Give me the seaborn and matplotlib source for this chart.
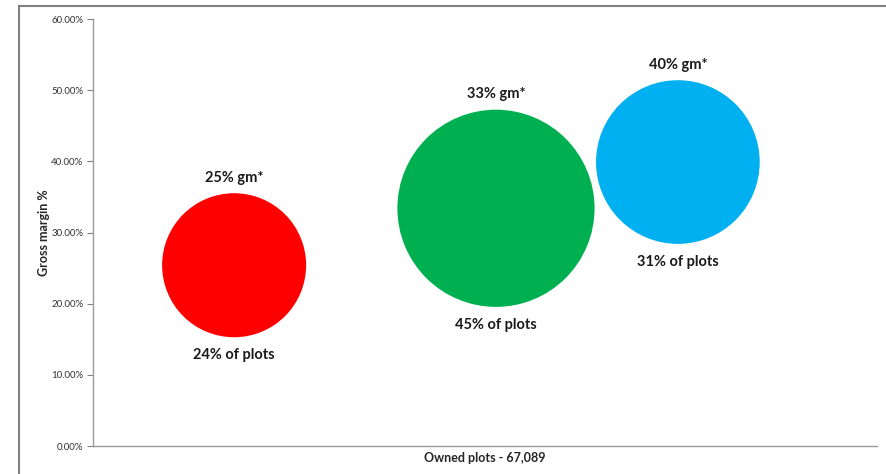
import matplotlib
matplotlib.use("Agg")
import matplotlib.pyplot as plt
import seaborn as sns
import pandas as pd
from matplotlib.patches import Rectangle
from matplotlib.ticker import PercentFormatter

groups = ["Low", "Mid", "High"]
x_pos = [0.18, 0.514, 0.746]
gross_margin = [25.4, 33.4, 39.9]
plot_share = [24, 45, 31]
top_labels = ["25% gm*", "33% gm*", "40% gm*"]
bottom_labels = ["24% of plots", "45% of plots", "31% of plots"]
colors = ["#FF0000", "#00B050", "#00B0F0"]
yticks = [0, 10, 20, 30, 40, 50, 60]

sns.set_style("white")
plt.rcParams['font.family'] = ['Lato', 'DejaVu Sans']

df = pd.DataFrame({"group": groups, "x": x_pos, "gm": gross_margin, "plots": plot_share})

fig = plt.figure(figsize=(8.86, 4.74), dpi=100)
ax = fig.add_axes([93/886, 1-446/474, (877-93)/886, (446-19)/474])

k = 448.0
sns.scatterplot(data=df, x="x", y="gm", hue="group", palette=dict(zip(groups, colors)),
                size="plots", sizes=(k*min(plot_share), k*max(plot_share)),
                size_norm=(min(plot_share), max(plot_share)),
                legend=False, linewidth=0, alpha=1, ax=ax, zorder=3, clip_on=False)

ax.set_xlim(0, 1)
ax.set_ylim(0, 60)
ax.set_yticks(yticks)
ax.yaxis.set_major_formatter(PercentFormatter(decimals=2))
ax.set_xticks([])
ax.tick_params(axis='y', which='major', left=True, length=4, width=0.8, color="#808080",
               labelsize=7, labelcolor="#333333", pad=3)

for s in ["top", "right"]:
    ax.spines[s].set_visible(False)
for s in ["left", "bottom"]:
    ax.spines[s].set_color("#999999")
    ax.spines[s].set_linewidth(1.0)

ax.set_ylabel("Gross margin %", fontsize=9, fontweight="bold", labelpad=1)
ax.set_xlabel("Owned plots - 67,089", fontsize=9, fontweight="bold", labelpad=4)

for xv, yv, p, tl, bl in zip(x_pos, gross_margin, plot_share, top_labels, bottom_labels):
    r_pt = (k * p) ** 0.5 / 2
    ax.annotate(tl, (xv, yv), xytext=(0, r_pt + 11), textcoords="offset points",
                ha="center", va="center", fontsize=10.5, fontweight="bold", color="#1a1a1a")
    ax.annotate(bl, (xv, yv), xytext=(0, -(r_pt + 13)), textcoords="offset points",
                ha="center", va="center", fontsize=10.5, fontweight="bold", color="#1a1a1a")

fig.patches.append(Rectangle((19/886, -0.1), 1.2, 1 - 6/474 + 0.1, transform=fig.transFigure,
                             fill=False, edgecolor="#808080", linewidth=1.5, zorder=0))

fig.savefig("out.png", dpi=100)
